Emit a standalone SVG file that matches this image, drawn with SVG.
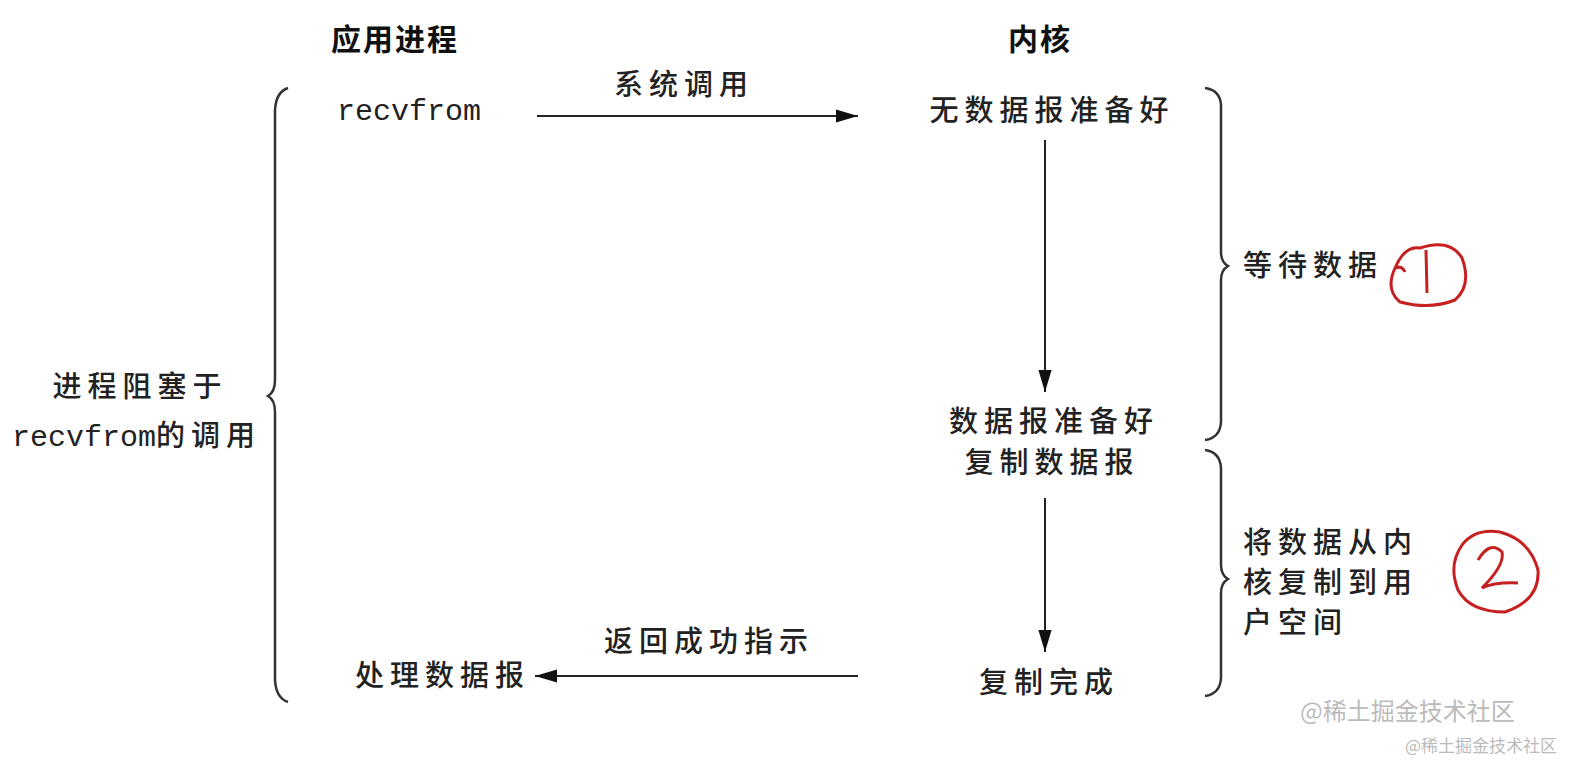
<svg xmlns="http://www.w3.org/2000/svg" width="1570" height="762" viewBox="0 0 1570 762">
<style>
.t{font-family:"Noto Sans CJK SC","Liberation Sans",sans-serif;font-size:29px;letter-spacing:6px;fill:#222;font-weight:500}
.h{font-family:"Noto Sans CJK SC",sans-serif;font-size:30px;font-weight:bold;fill:#111;letter-spacing:2px}
.m{font-family:"Liberation Mono","Noto Sans CJK SC",monospace;font-size:30px;fill:#222;letter-spacing:0}
.l{stroke:#222;stroke-width:2;fill:none}
.b{stroke:#333;stroke-width:2.5;fill:none}
.r{stroke:#c62020;stroke-width:3;fill:none}
.w{font-family:"Noto Sans CJK SC",sans-serif;fill:#bbb}
</style>
<defs>
<marker id="a2" viewBox="0 0 20 12" refX="20" refY="6" markerWidth="22" markerHeight="14" markerUnits="userSpaceOnUse" orient="auto"><path d="M0,0 L20,6 L0,12z" fill="#111"/></marker></defs>
<text class="h" x="395" y="50" text-anchor="middle">应用进程</text>
<text class="h" x="1040" y="50" text-anchor="middle">内核</text>
<g id="left-brace"><path class="b" d="M288,88 Q276,92 275,110 L275,380 Q275,392 268,396 Q275,400 275,412 L275,680 Q276,698 288,702"/>
<text class="t" x="140" y="397" text-anchor="middle">进程阻塞于</text>
<text x="12" y="446"><tspan class="m">recvfrom</tspan><tspan class="t">的调用</tspan></text></g>
<g id="recvfrom"><text class="m" x="337" y="120">recvfrom</text></g>
<g id="nodata"><text class="t" x="1052" y="121" text-anchor="middle">无数据报准备好</text></g>
<g id="ready"><text class="t" x="1054" y="432" text-anchor="middle">数据报准备好</text><text class="t" x="1052" y="473" text-anchor="middle">复制数据报</text></g>
<g id="done"><text class="t" x="1049" y="693" text-anchor="middle">复制完成</text></g>
<g id="process"><text class="t" x="355" y="686">处理数据报</text></g>
<g id="connectors">
<line class="l" x1="537" y1="116" x2="858" y2="116" marker-end="url(#a2)"/>
<text class="t" x="684" y="95" text-anchor="middle">系统调用</text>
<line class="l" x1="1045" y1="140" x2="1045" y2="392" marker-end="url(#a2)"/>
<line class="l" x1="1045" y1="498" x2="1045" y2="652" marker-end="url(#a2)"/>
<line class="l" x1="858" y1="676" x2="535" y2="676" marker-end="url(#a2)"/>
<text class="t" x="709" y="652" text-anchor="middle">返回成功指示</text>
</g>
<g id="wait"><path class="b" d="M1205,88 Q1220,90 1221,105 L1221,252 Q1221,262 1228,266 Q1221,270 1221,280 L1221,422 Q1220,438 1205,440"/>
<text class="t" x="1243" y="276">等待数据</text>
<path class="r" d="M1395,268 Q1405,245 1420,248 Q1450,238 1462,258 Q1472,285 1455,300 Q1430,310 1400,302 Q1385,290 1395,268 M1395,268 Q1402,265 1405,272 M1426,250 L1427,293"/></g>
<g id="copy"><path class="b" d="M1205,450 Q1220,452 1221,468 L1221,565 Q1221,575 1228,579 Q1221,583 1221,593 L1221,678 Q1220,694 1205,696"/>
<text class="t" x="1243" y="553">将数据从内</text><text class="t" x="1243" y="593">核复制到用</text><text class="t" x="1243" y="633">户空间</text>
<path class="r" d="M1462,545 Q1475,528 1500,532 Q1530,540 1538,570 Q1540,600 1505,612 Q1470,612 1458,590 Q1448,565 1462,545 M1478,560 Q1490,540 1502,552 Q1505,565 1482,588 Q1495,582 1518,583"/></g>
<text class="w" x="1300" y="720" font-size="24">@稀土掘金技术社区</text>
<text class="w" x="1405" y="752" font-size="17" fill="#aaa">@稀土掘金技术社区</text>
</svg>
